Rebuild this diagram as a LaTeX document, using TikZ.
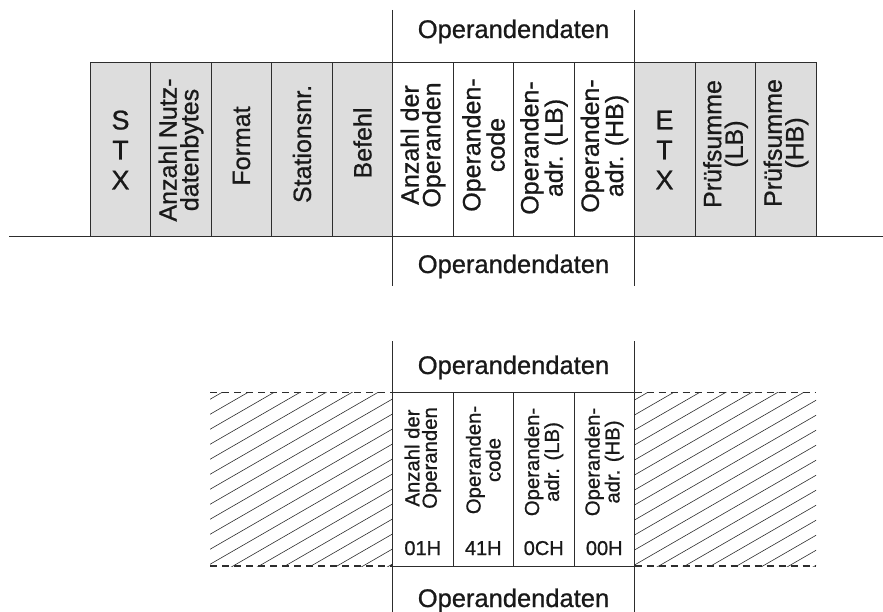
\documentclass[tikz,border=0pt]{standalone}
\usepackage{fontspec}
\setmainfont{Liberation Sans}[FakeBold=0.8]
\definecolor{linec}{RGB}{45,45,45}
\definecolor{cellgray}{RGB}{221,221,221}
\begin{document}
\begin{tikzpicture}[x=1pt,y=-1pt,
  frame/.style={draw=linec, line width=0.9pt},
  gcell/.style={frame, fill=cellgray, minimum width=60.5pt, minimum height=174pt, inner sep=0pt, outer sep=0pt},
  wcell/.style={frame, fill=white, minimum width=60.5pt, minimum height=174pt, inner sep=0pt, outer sep=0pt},
  rtext/.style={rotate=90, font=\fontsize{25}{21.6}\selectfont, align=center, inner sep=0pt, text=black!90},
  stack/.style={font=\fontsize{27}{30}\selectfont, align=center, inner sep=0pt, text=black!90},
  srtext/.style={rotate=90, font=\fontsize{20.3}{17.5}\selectfont, align=center, inner sep=0pt, text=black!90},
  lbl/.style={font=\fontsize{25.5}{25.5}\selectfont, inner sep=0pt, anchor=base, text=black!90},
  val/.style={font=\fontsize{20}{20}\selectfont, inner sep=0pt, anchor=base, text=black!90},
  hatchline/.style={draw=linec, line width=0.6pt},
  dashline/.style={draw=linec, line width=0.9pt, dash pattern=on 7pt off 5pt},
  sepline/.style={draw=linec, line width=0.9pt}
]
\useasboundingbox (0,0) rectangle (883,612);

% ---------------- top diagram ----------------
\coordinate (baseL) at (9,236);
\coordinate (baseR) at (883,236);
\draw[sepline] (baseL) -- (baseR);

\node[gcell] (t1) at (120.25,149) {};
\node[gcell] (t2) at (180.75,149) {};
\node[gcell] (t3) at (241.25,149) {};
\node[gcell] (t4) at (301.75,149) {};
\node[gcell] (t5) at (362.25,149) {};
\node[wcell] (t6) at (422.75,149) {};
\node[wcell] (t7) at (483.25,149) {};
\node[wcell] (t8) at (543.75,149) {};
\node[wcell] (t9) at (604.25,149) {};
\node[gcell] (t10) at (664.75,149) {};
\node[gcell] (t11) at (725.25,149) {};
\node[gcell] (t12) at (785.75,149) {};

\node[stack] (x1) at (120.5,150) {S\\T\\X};
\node[rtext] (x2) at (181,150) {Anzahl Nutz-\\datenbytes};
\node[rtext] (x3) at (241.5,146) {Format};
\node[rtext] (x4) at (302,144) {Stationsnr.};
\node[rtext] (x5) at (362.5,143) {Befehl};
\node[rtext] (x6) at (423,145) {Anzahl der\\Operanden};
\node[rtext] (x7) at (483.5,145) {Operanden-\\code};
\node[rtext] (x8) at (544,148) {Operanden-\\adr. (LB)};
\node[rtext] (x9) at (604.5,146) {Operanden-\\adr. (HB)};
\node[stack] (x10) at (664.5,150) {E\\T\\X};
\node[rtext] (x11) at (725.5,144) {Prüfsumme\\(LB)};
\node[rtext] (x12) at (786,143) {Prüfsumme\\(HB)};

\coordinate (tvLa) at (392.5,10);
\coordinate (tvLb) at (392.5,286);
\coordinate (tvRa) at (634.5,10);
\coordinate (tvRb) at (634.5,286);
\draw[sepline] (tvLa) -- (tvLb);
\draw[sepline] (tvRa) -- (tvRb);

\node[lbl] (topU) at (513.5,38) {Operandendaten};
\node[lbl] (topD) at (513.5,273) {Operandendaten};

% ---------------- bottom diagram ----------------
\begin{scope}
  \clip (210,392) rectangle (392.5,566);
  \foreach \k in {0,...,19} \draw[hatchline] (210,399.3+15*\k) -- ++(183,-105.6);
\end{scope}
\begin{scope}
  \clip (634.5,392) rectangle (816,566);
  \foreach \k in {0,...,19} \draw[hatchline] (634.5,400+15*\k) -- ++(182,-105);
\end{scope}

\coordinate (hLt) at (210,392);
\coordinate (hLb) at (210,566);
\coordinate (hRt) at (816,392);
\coordinate (hRb) at (816,566);

\node[wcell] (b1) at (422.75,479) {};
\node[wcell] (b2) at (483.25,479) {};
\node[wcell] (b3) at (543.75,479) {};
\node[wcell] (b4) at (604.25,479) {};

\draw[dashline] (hLt) -- (b1.north west);
\draw[dashline, line width=1.2pt] (hLb) -- (b1.south west);
\draw[dashline] (b4.north east) -- (hRt);
\draw[dashline, line width=1.2pt] (b4.south east) -- (hRb);

\node[srtext] (y1) at (422.75,458) {Anzahl der\\Operanden};
\node[srtext] (y2) at (483.25,460) {Operanden-\\code};
\node[srtext] (y3) at (543.75,462) {Operanden-\\adr. (LB)};
\node[srtext] (y4) at (604.25,462) {Operanden-\\adr. (HB)};

\node[val] (v1) at (422.75,555) {01H};
\node[val] (v2) at (483.25,555) {41H};
\node[val] (v3) at (543.75,555) {0CH};
\node[val] (v4) at (604.25,555) {00H};

\coordinate (bvLa) at (392.5,341);
\coordinate (bvLb) at (392.5,612);
\coordinate (bvRa) at (634.5,341);
\coordinate (bvRb) at (634.5,612);
\draw[sepline] (bvLa) -- (bvLb);
\draw[sepline] (bvRa) -- (bvRb);

\node[lbl] (botU) at (513.5,374) {Operandendaten};
\node[lbl] (botD) at (513.5,607) {Operandendaten};
\end{tikzpicture}
\end{document}
